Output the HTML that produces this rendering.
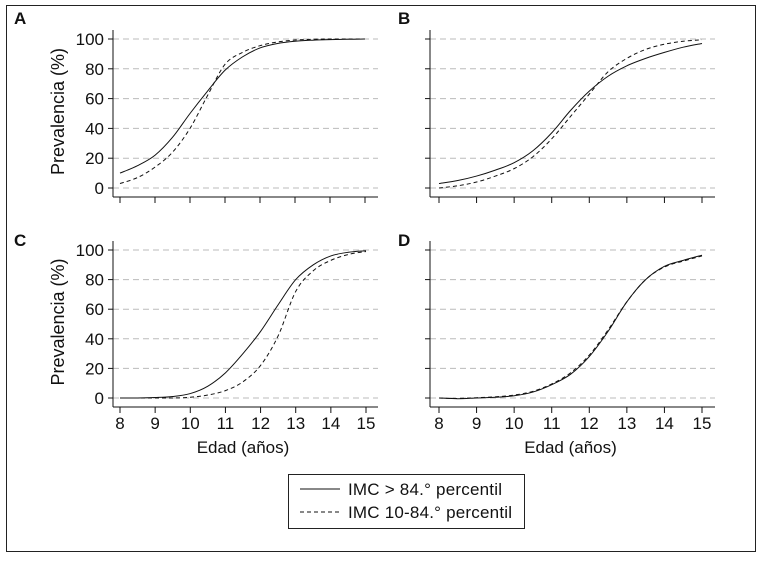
<!DOCTYPE html>
<html><head><meta charset="utf-8"><style>
html,body{margin:0;padding:0;background:#fff}
svg{display:block;font-family:"Liberation Sans",Arial,sans-serif}
</style></head><body>
<svg id="chart" width="761" height="562" viewBox="0 0 761 562">
<rect x="6.5" y="5.5" width="749" height="546" fill="none" stroke="#222" stroke-width="1"/>
<g id="panels"></g>
<g>
<rect x="288.5" y="474.5" width="236" height="54" fill="#fff" stroke="#222"/>
<line x1="300" y1="489" x2="340" y2="489" stroke="#111" stroke-width="1"/>
<text x="348" y="495" font-size="17" textLength="154" fill="#111">IMC &gt; 84.° percentil</text>
<line x1="300" y1="512" x2="340" y2="512" stroke="#111" stroke-width="1" stroke-dasharray="4,3"/>
<text x="348" y="518" font-size="17" textLength="164" fill="#111">IMC 10-84.° percentil</text>
</g>
</svg>
<script>
const xYears = [8, 8.5, 9, 9.5, 10, 10.5, 11, 11.5, 12, 12.5, 13, 13.5, 14, 14.5, 15];
const yTicks = [0, 20, 40, 60, 80, 100];
const xTicks = [8, 9, 10, 11, 12, 13, 14, 15];
const panelLabels = ["A", "B", "C", "D"];
const aSolid = [10, 15, 22, 34, 50, 65, 79, 88, 94, 97, 98.5, 99.2, 99.6, 99.8, 100];
const aDashed = [3, 7, 14, 24, 40, 62, 83, 91, 95.5, 98, 99.3, 99.8, 100, 100, 100];
const bSolid = [3, 5, 8, 12, 17, 25, 37, 52, 65, 75, 82, 87, 91, 94.5, 97];
const bDashed = [0, 1.5, 4, 8, 13, 21, 33, 48, 63, 78, 87, 93, 96.5, 98.5, 99.5];
const cSolid = [0, 0, 0.3, 1, 3, 8, 17, 30, 45, 63, 80, 90, 96, 98.5, 99.5];
const cDashed = [0, 0, 0, 0, 0.5, 2, 5, 11, 22, 42, 72, 86, 93, 97, 99];
const dSolid = [0, -0.5, 0, 0.5, 1.5, 4, 9, 16, 28, 45, 65, 80, 89, 93, 96.5];
const dDashed = [0, -0.3, 0.2, 0.8, 2, 4.5, 9.5, 17, 29, 46, 65, 80, 88.5, 92.5, 96];
const series = [[aSolid, aDashed], [bSolid, bDashed], [cSolid, cDashed], [dSolid, dDashed]];

const NS = "http://www.w3.org/2000/svg";
const root = document.getElementById("panels");
const layouts = [
  {ax:113, x8:120, x15:365, right:378, y0:188, y100:39, bottom:197, top:30, lx:14, ly:24, showY:true, showX:false},
  {ax:430, x8:439, x15:702, right:715, y0:188, y100:39, bottom:197, top:30, lx:398, ly:24, showY:false, showX:false},
  {ax:113, x8:120, x15:366, right:378, y0:398, y100:250, bottom:407, top:241, lx:14, ly:246, showY:true, showX:true},
  {ax:430, x8:439, x15:702, right:715, y0:398, y100:250, bottom:407, top:241, lx:398, ly:246, showY:false, showX:true}
];
function mk(tag, attrs, parent){
  const e = document.createElementNS(NS, tag);
  for (const k in attrs) e.setAttribute(k, attrs[k]);
  parent.appendChild(e);
  return e;
}
function pathFrom(pts){
  let d = "M" + pts[0][0] + "," + pts[0][1];
  for (let i = 0; i < pts.length - 1; i++){
    const p0 = pts[Math.max(0, i-1)], p1 = pts[i], p2 = pts[i+1], p3 = pts[Math.min(pts.length-1, i+2)];
    const c1x = p1[0] + (p2[0]-p0[0])/6, c1y = p1[1] + (p2[1]-p0[1])/6;
    const c2x = p2[0] - (p3[0]-p1[0])/6, c2y = p2[1] - (p3[1]-p1[1])/6;
    d += " C" + c1x + "," + c1y + " " + c2x + "," + c2y + " " + p2[0] + "," + p2[1];
  }
  return d;
}
layouts.forEach((L, pi) => {
  const g = mk("g", {}, root);
  
  
  const xs = v => L.x8 + (v - 8) * (L.x15 - L.x8) / 7;
  const ys = v => L.y0 - v * (L.y0 - L.y100) / 100;
  const lab = mk("text", {x:L.lx, y:L.ly, "font-size":17, "font-weight":"bold", fill:"#111"}, g);
  lab.textContent = panelLabels[pi];
  
  
  yTicks.forEach(t => {
    const y = ys(t);
    const gl = mk("line", {x1:L.ax, x2:L.right, y1:y, y2:y, stroke:"#bbb", "stroke-width":1, "stroke-dasharray":"6,4"}, g);
    
    
    const tk = mk("line", {x1:L.ax-5, x2:L.ax, y1:y, y2:y, stroke:"#111"}, g);
    
    
    if (L.showY){
      const tl = mk("text", {x:L.ax-9, y:y+6, "font-size":17, "text-anchor":"end", fill:"#111"}, g);
      tl.textContent = t;
      
      
    }
  });
  const ya = mk("line", {x1:L.ax, x2:L.ax, y1:L.top, y2:L.bottom, stroke:"#111"}, g);
  
  
  const xa = mk("line", {x1:L.ax, x2:L.right, y1:L.bottom, y2:L.bottom, stroke:"#111"}, g);
  
  
  xTicks.forEach(t => {
    const x = xs(t);
    const tk = mk("line", {x1:x, x2:x, y1:L.bottom, y2:L.bottom+6, stroke:"#111"}, g);
    
    
    if (L.showX){
      const tl = mk("text", {x:x, y:L.bottom+22, "font-size":17, "text-anchor":"middle", fill:"#111"}, g);
      tl.textContent = t;
      
      
    }
  });
  if (L.showY){
    const cy = (L.top + L.bottom) / 2 - 2;
    const yt = mk("text", {x:64, y:cy, "font-size":18, "text-anchor":"middle", fill:"#111", transform:"rotate(-90 64 " + cy + ")"}, g);
    yt.textContent = "Prevalencia (%)";
    
    
  }
  if (L.showX){
    const xt = mk("text", {x:(L.x8+L.x15)/2, y:L.bottom+46, "font-size":17, "text-anchor":"middle", fill:"#111"}, g);
    xt.textContent = "Edad (años)";
    
    
  }
  series[pi].forEach((vals, si) => {
    const pts = xYears.map((v, i) => [xs(v), ys(vals[i])]);
    const p = mk("path", {d:pathFrom(pts), fill:"none", stroke:"#111", "stroke-width":1}, g);
    if (si === 1) p.setAttribute("stroke-dasharray", "4,3");
    
    
  });
});
</script>
</body></html>
